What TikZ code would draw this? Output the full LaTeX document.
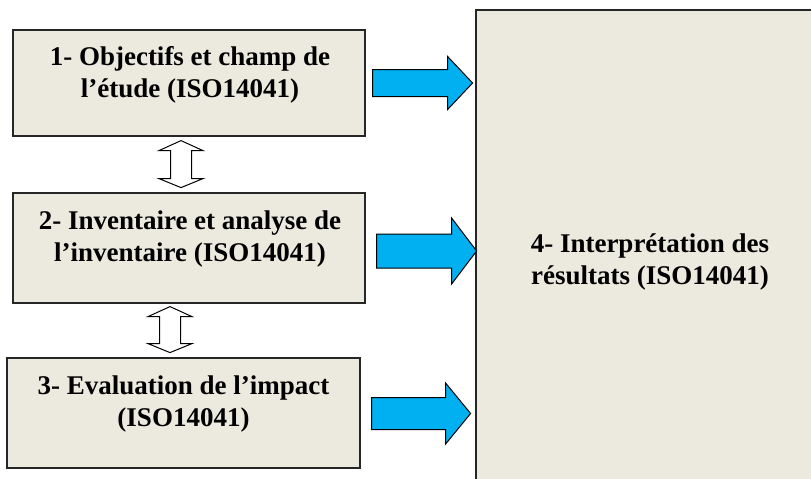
\documentclass[tikz,border=0pt]{standalone}
\usepackage{fontspec}
\setmainfont{Liberation Serif}
\usetikzlibrary{calc}
\definecolor{boxfill}{HTML}{ECE9DF}
\definecolor{arrblue}{HTML}{00B0F0}
\begin{document}
\begin{tikzpicture}[x=1pt,y=-1pt,
  stepbox/.style={draw=black!85,line width=1.2pt,fill=boxfill,inner sep=0pt},
  boxtext/.style={anchor=base,align=center,inner sep=0pt,
    font=\fontsize{27}{32}\selectfont\bfseries},
  bluearr/.style={draw=black,line width=1pt,fill=arrblue,line join=miter},
  hollowarr/.style={draw=black,line width=1pt,fill=white,line join=miter}]
\useasboundingbox (0,0) rectangle (811,479);
% boxes
\node[stepbox,minimum width=352pt,minimum height=106pt] (b1) at (189,83) {};
\node[stepbox,minimum width=352pt,minimum height=110pt] (b2) at (189,248) {};
\node[stepbox,minimum width=353pt,minimum height=110pt] (b3) at (183.5,413) {};
% right box (cut off at right and bottom)
\fill[boxfill] (476,10) rectangle (812,480);
\draw[black!85,line width=1.2pt] (476,480) -- (476,10) -- (812,10);
\coordinate (b4w) at (476,250);
% texts (anchor base = baseline of last line)
\node[boxtext] (t1) at (190,97) {1- Objectifs et champ de\\l’étude (ISO14041)};
\node[boxtext] (t2) at (190,261) {2- Inventaire et analyse de\\l’inventaire (ISO14041)};
\node[boxtext] (t3) at (183.5,426) {3- Evaluation de l’impact\\(ISO14041)};
\node[boxtext] (t4) at (650,284) {4- Interprétation des\\résultats (ISO14041)};
% blue block arrows
\draw[bluearr] ($(b1.east)+(7,-13.5)$) -- ++(75,0) -- ++(0,-13) -- ++(25,26.5)
  -- ++(-25,26.5) -- ++(0,-13) -- ++(-75,0) -- cycle;
\draw[bluearr] ($(b2.east)+(11,-14)$) -- ++(75,0) -- ++(0,-16) -- ++(25,33)
  -- ++(-25,33) -- ++(0,-16) -- ++(-75,0) -- cycle;
\draw[bluearr] ($(b3.east)+(11,-15.5)$) -- ++(74,0) -- ++(0,-14.5) -- ++(25,30.5)
  -- ++(-25,30.5) -- ++(0,-14.5) -- ++(-74,0) -- cycle;
% hollow double arrows
\draw[hollowarr] ($(b1.south)+(-8,4)$) coordinate (h1) -- ++(22,10) -- ++(-11.5,0)
  -- ++(0,28) -- ++(11.5,0) -- ++(-22,9) -- ++(-22,-9) -- ++(11.5,0) -- ++(0,-28)
  -- ++(-11.5,0) -- cycle;
\draw[hollowarr] ($(b2.south)+(-19,3)$) coordinate (h2) -- ++(22,10) -- ++(-11.5,0)
  -- ++(0,27) -- ++(11.5,0) -- ++(-22,9) -- ++(-22,-9) -- ++(11.5,0) -- ++(0,-27)
  -- ++(-11.5,0) -- cycle;
\end{tikzpicture}
\end{document}
